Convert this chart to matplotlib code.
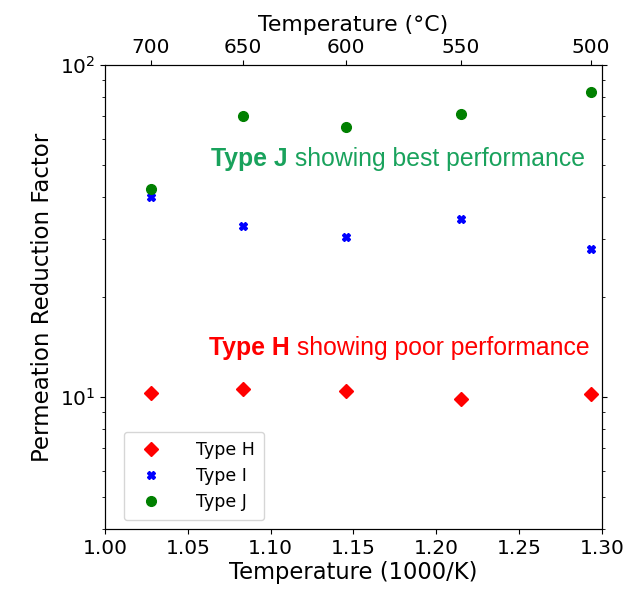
import matplotlib.pyplot as plt
import numpy as np

# temperatures of the tests (deg C) and the reduction factors
temps_c = np.array([700, 650, 600, 550, 500])
type_h = [10.26, 10.59, 10.44, 9.86, 10.18]
type_i = [40.1, 32.8, 30.3, 34.4, 27.9]
type_j = [42.2, 70.2, 64.9, 71.0, 82.9]

inv_t = 1000.0 / (temps_c + 273.15)

fig, ax = plt.subplots(figsize=(6.23, 5.94), dpi=100)
fig.subplots_adjust(left=0.1685, right=0.966, top=0.8906, bottom=0.1094)

ax.plot(inv_t, type_h, 'D', color='red', ms=7, ls='none', label='Type H')
ax.plot(inv_t, type_i, 'X', color='blue', ms=6, ls='none', label='Type I')
ax.plot(inv_t, type_j, 'o', color='green', ms=7, ls='none', label='Type J')

ax.set_yscale('log')
ax.set_xlim(1.0, 1.3)
ax.set_ylim(4, 100)
ax.set_xlabel('Temperature (1000/K)', fontsize=16.3, labelpad=2)
ax.set_ylabel('Permeation Reduction Factor', fontsize=16.5)
ax.tick_params(labelsize=14.5)
ax.tick_params(which='both', right=True)

# top axis in deg C
ax2 = ax.twiny()
ax2.set_xlim(ax.get_xlim())
ax2.set_xticks(inv_t, labels=[str(t) for t in temps_c])
ax2.tick_params(labelsize=14.5, pad=2)
ax2.set_xlabel('Temperature (°C)', fontsize=15.8, labelpad=5)

ax.legend(loc='lower left', fontsize=12.5, handletextpad=1.6, borderpad=0.55,
          labelspacing=0.45, bbox_to_anchor=(0.02, 0.0))

# annotations
green = '#19a25c'
t1 = ax.text(1.064, 52, 'Type J', color=green, fontsize=17.8, fontweight='bold',
             family='Liberation Sans', va='center')
ax.annotate(' showing best performance', xy=(1, 0.5), xycoords=t1, va='center',
            color=green, fontsize=17.8, family='Liberation Sans')
t2 = ax.text(1.063, 14.0, 'Type H', color='red', fontsize=17.8, fontweight='bold',
             family='Liberation Sans', va='center')
ax.annotate(' showing poor performance', xy=(1, 0.5), xycoords=t2, va='center',
            color='red', fontsize=17.8, family='Liberation Sans')

fig.savefig('out.png', dpi=100)
